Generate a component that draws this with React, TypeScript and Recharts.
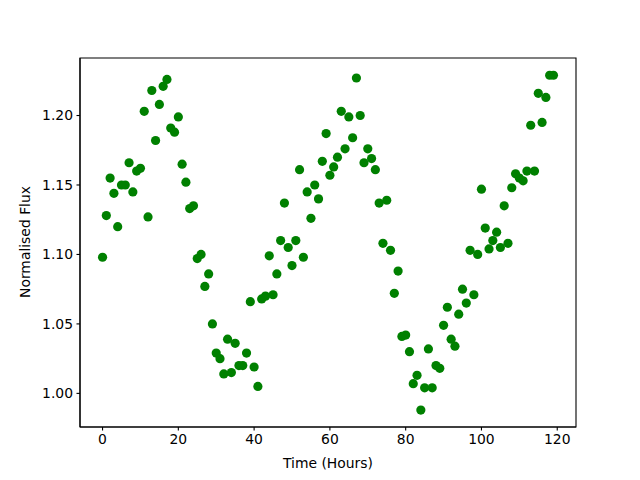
import React from 'react';
import { ScatterChart, Scatter, XAxis, YAxis, ReferenceArea, Label } from 'recharts';

const hours: number[] = Array.from({ length: 120 }, (_, i) => i);

const flux: number[] = [
  1.098, 1.128, 1.155, 1.144, 1.120, 1.150, 1.150, 1.166, 1.145, 1.160,
  1.162, 1.203, 1.127, 1.218, 1.182, 1.208, 1.221, 1.226, 1.191, 1.188,
  1.199, 1.165, 1.152, 1.133, 1.135, 1.097, 1.100, 1.077, 1.086, 1.050,
  1.029, 1.025, 1.014, 1.039, 1.015, 1.036, 1.020, 1.020, 1.029, 1.066,
  1.019, 1.005, 1.068, 1.070, 1.099, 1.071, 1.086, 1.110, 1.137, 1.105,
  1.092, 1.110, 1.161, 1.098, 1.145, 1.126, 1.150, 1.140, 1.167, 1.187,
  1.157, 1.163, 1.170, 1.203, 1.176, 1.199, 1.184, 1.227, 1.200, 1.166,
  1.176, 1.169, 1.161, 1.137, 1.108, 1.139, 1.103, 1.072, 1.088, 1.041,
  1.042, 1.030, 1.007, 1.013, 0.988, 1.004, 1.032, 1.004, 1.020, 1.018,
  1.049, 1.062, 1.039, 1.034, 1.057, 1.075, 1.065, 1.103, 1.071, 1.100,
  1.147, 1.119, 1.104, 1.110, 1.116, 1.105, 1.135, 1.108, 1.148, 1.158,
  1.155, 1.153, 1.160, 1.193, 1.160, 1.216, 1.195, 1.213, 1.229, 1.229,
];

const xTicks: number[] = [0, 20, 40, 60, 80, 100, 120];
const yTicks: number[] = [1.0, 1.05, 1.1, 1.15, 1.2];

const X_DOMAIN: [number, number] = [-5.95, 124.95];
const Y_DOMAIN: [number, number] = [0.9758, 1.2414];

const data = hours.map((h, i) => ({ x: h, y: flux[i] }));

const FONT = 'DejaVu Sans';

const Dot = (props: any) => (
  <circle cx={props.cx} cy={props.cy} r={4.6} fill="#008000" />
);

export default function App() {
  return (
    <div style={{ position: 'absolute', left: 0, top: 0, width: 640, height: 480, background: '#fff' }}>
      <ScatterChart
        width={640}
        height={480}
        margin={{ top: 58, right: 64, bottom: 0, left: 0 }}
      >
        <XAxis
          type="number"
          dataKey="x"
          domain={X_DOMAIN}
          ticks={xTicks}
          allowDataOverflow
          height={53}
          tickSize={3.5}
          tickMargin={3.5}
          tick={{ fill: '#000', fontSize: 13.9, fontFamily: FONT }}
          tickLine={{ stroke: '#000', strokeWidth: 1.1 }}
          axisLine={{ stroke: '#000', strokeWidth: 1.1 }}
          tickFormatter={(v: number) => String(v)}
        >
          <Label
            content={() => (
              <text x={328} y={468} textAnchor="middle" fontSize={13.9} fontFamily={FONT} fill="#000">
                Time (Hours)
              </text>
            )}
          />
        </XAxis>
        <YAxis
          type="number"
          dataKey="y"
          domain={Y_DOMAIN}
          ticks={yTicks}
          allowDataOverflow
          width={80}
          tickSize={3.5}
          tickMargin={3.5}
          tick={{ fill: '#000', fontSize: 13.9, fontFamily: FONT }}
          tickLine={{ stroke: '#000', strokeWidth: 1.1 }}
          axisLine={{ stroke: '#000', strokeWidth: 1.1 }}
          tickFormatter={(v: number) => v.toFixed(2)}
        >
          <Label
            content={() => (
              <text
                x={25}
                y={242}
                transform="rotate(-90 25 242)"
                textAnchor="middle"
                dominantBaseline="central"
                fontSize={13.9}
                fontFamily={FONT}
                fill="#000"
              >
                Normalised Flux
              </text>
            )}
          />
        </YAxis>
        <ReferenceArea
          x1={X_DOMAIN[0]}
          x2={X_DOMAIN[1]}
          y1={Y_DOMAIN[0]}
          y2={Y_DOMAIN[1]}
          fill="none"
          stroke="#000"
          strokeWidth={1.1}
          ifOverflow="visible"
        />
        <Scatter data={data} shape={Dot} isAnimationActive={false} />
      </ScatterChart>
    </div>
  );
}
